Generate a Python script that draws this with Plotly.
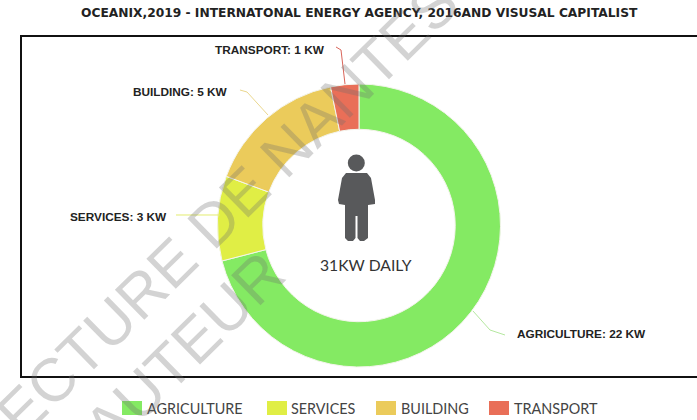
import plotly.graph_objects as go

W, H = 697, 420
TITLE = "OCEANIX,2019 - INTERNATONAL ENERGY AGENCY, 2016AND VISUSAL CAPITALIST"
categories = ["AGRICULTURE", "SERVICES", "BUILDING", "TRANSPORT"]
values = [22, 3, 5, 1]
colors = ["#84EA63", "#E0EE45", "#EBCB5B", "#E96F58"]
slice_text = ["AGRICULTURE: 22 KW", "SERVICES: 3 KW", "BUILDING: 5 KW", "TRANSPORT: 1 KW"]
center_text = "31KW DAILY"
watermark = ["ECTURE DE NANTES", "AUTEUR"]


def px(x):
    return x / W


def py(y):
    return 1 - y / H


fig = go.Figure(go.Pie(
    labels=categories, values=values, hole=0.68, sort=False, direction="clockwise",
    rotation=0, textinfo="none", hoverinfo="label+value",
    marker=dict(colors=colors, line=dict(color="#F4F4EC", width=1)),
    domain=dict(x=[px(217.5), px(500.5)], y=[py(367), py(84)]),
    showlegend=False,
))

shapes, annos = [], []


def line(pts, color, width=1):
    d = "M" + " L".join(f"{px(x):.5f},{py(y):.5f}" for x, y in pts)
    shapes.append(dict(type="path", xref="paper", yref="paper", path=d,
                       line=dict(color=color, width=width)))


def text(x, y, s, size, color, family, anchor="left", angle=0, bold=False):
    annos.append(dict(x=px(x), y=py(y), xref="paper", yref="paper", text=f"<b>{s}</b>" if bold else s,
                      showarrow=False, xanchor=anchor, yanchor="middle", textangle=angle,
                      font=dict(size=size, color=color, family=family)))


# frame (runs off the right edge)
line([(697, 36), (21, 36), (21, 377), (697, 377)], "#111111", 2)

# title
text(359.5, 13, TITLE, 12.25, "#222222", "DejaVu Sans", "center", bold=True)

# slice labels and leader lines
LBL = "Liberation Sans"
text(515, 334, slice_text[0], 11.8, "#222222", LBL, bold=True)
text(68, 217, slice_text[1], 11.8, "#222222", LBL, bold=True)
text(131, 92, slice_text[2], 11.8, "#222222", LBL, bold=True)
text(213, 50, slice_text[3], 11.8, "#222222", LBL, bold=True)
line([(473, 311), (490, 330), (505, 335)], "#B5E8A0")
line([(176, 215), (220, 215)], "#E3EC70")
line([(240, 90), (247, 92), (268, 115)], "#EAD78E")
line([(336, 47), (341, 50), (345, 84)], "#D9655A")

# person icon
ICON = "#58595B"
shapes.append(dict(type="circle", xref="paper", yref="paper", x0=px(347.8), x1=px(364.8),
                   y0=py(171.5), y1=py(154.5), fillcolor=ICON, line=dict(width=0)))
body = [(346, 173), (367, 173), (371, 178), (375, 200), (375, 204), (368, 205), (368, 238), (364, 241),
        (360, 241), (357.5, 238), (357.5, 216), (355.5, 216), (355.5, 238), (353, 241), (348, 241),
        (345, 238), (345, 205), (339, 204), (338, 200), (342, 178)]
shapes.append(dict(type="path", xref="paper", yref="paper",
                   path="M" + " L".join(f"{px(x):.5f},{py(y):.5f}" for x, y in body) + " Z",
                   fillcolor=ICON, line=dict(width=0)))
text(366, 265, center_text, 15.7, "#333333", "Lato", "center")

# legend
swatch_x = [122, 267, 376, 489]
label_x = [145, 289, 399, 512]
for c, col, sx, lx in zip(categories, colors, swatch_x, label_x):
    shapes.append(dict(type="rect", xref="paper", yref="paper", x0=px(sx), x1=px(sx + 20),
                       y0=py(415), y1=py(401), fillcolor=col, line=dict(width=0)))
    text(lx, 408, c, 14.4, "#444444", "Lato")

# watermark
WM = "rgba(110,110,110,0.3)"
text(228, 208, watermark[0], 61, WM, "Liberation Sans", "center", angle=-44.5)
text(184, 351, watermark[1], 61, WM, "Liberation Sans", "center", angle=-44.5)

fig.update_layout(
    width=W, height=H, margin=dict(l=0, r=0, t=0, b=0),
    paper_bgcolor="white", plot_bgcolor="white",
    shapes=shapes, annotations=annos,
)
fig.write_html("out.html", post_script="document.body.style.margin='0';",
               config=dict(displayModeBar=False))
